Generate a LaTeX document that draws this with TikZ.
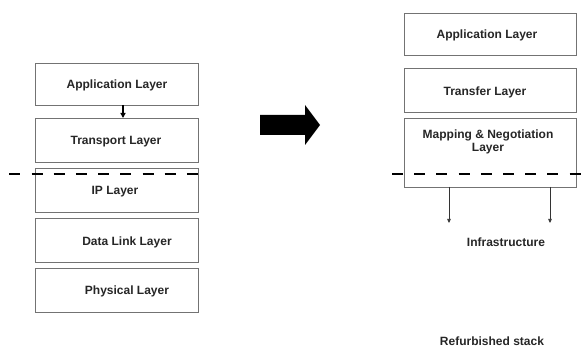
\documentclass[tikz,border=0pt]{standalone}
\usepackage{fontspec}
\setmainfont{Liberation Sans}
\usetikzlibrary{arrows.meta}
\begin{document}
\begin{tikzpicture}[x=1pt,y=-1pt,
  layer/.style={draw=black!55, line width=0.9pt, fill=white},
  lbl/.style={font=\bfseries\fontsize{12}{13}\selectfont, text=black!85, inner sep=0pt, align=center},
  sep/.style={line width=2.8pt, dash pattern=on 11pt off 11.2pt},
  thin/.style={draw=black!80, line width=0.6pt, -{Triangle[length=4pt,width=3.5pt]}}]
\useasboundingbox (0,0) rectangle (587,347);
% left stack
\draw[layer] (35,63) rectangle (198,105);
\draw[layer] (35,118) rectangle (198,162);
\draw[layer] (35,168) rectangle (198,212);
\draw[layer] (35,218) rectangle (198,262);
\draw[layer] (35,268) rectangle (198,312);
\node[lbl] (la) at (117,85) {Application Layer};
\node[lbl] (lt) at (116,142) {Transport Layer};
\node[lbl] (li) at (115,192) {IP Layer};
\node[lbl] (ld) at (127,242) {Data Link Layer};
\node[lbl] (lp) at (127,291) {Physical Layer};
\coordinate (ab) at (123,105);
\coordinate (tt) at (123,118);
\draw[line width=1.3pt, -{Triangle[length=5pt,width=5pt]}] (ab) -- (tt);
\coordinate (ds) at (9.3,174);
\coordinate (de) at (209,174);
\draw[sep] (ds) -- (de);
% big arrow
\fill (260,115) -- (305,115) -- (305,105) -- (320,125) -- (305,145) -- (305,135) -- (260,135) -- cycle;
% right stack
\draw[layer] (404,13) rectangle (576,55);
\draw[layer] (404,68) rectangle (576,112);
\draw[layer] (404,118) rectangle (576,187);
\node[lbl] (ra) at (487,35) {Application Layer};
\node[lbl] (rt) at (485,92) {Transfer Layer};
\node[lbl] (rm) at (488,142) {Mapping \& Negotiation\\Layer};
\coordinate (rs) at (392,174);
\coordinate (re) at (582,174);
\draw[sep] (rs) -- (re);
\coordinate (d1s) at (449,187);
\coordinate (d1e) at (449,223);
\coordinate (d2s) at (550,187);
\coordinate (d2e) at (550,223);
\draw[thin] (d1s) -- (d1e);
\draw[thin] (d2s) -- (d2e);
\node[lbl] (inf) at (506,242) {Infrastructure};
\node[lbl] (ref) at (492,341) {Refurbished stack};
\end{tikzpicture}
\end{document}
